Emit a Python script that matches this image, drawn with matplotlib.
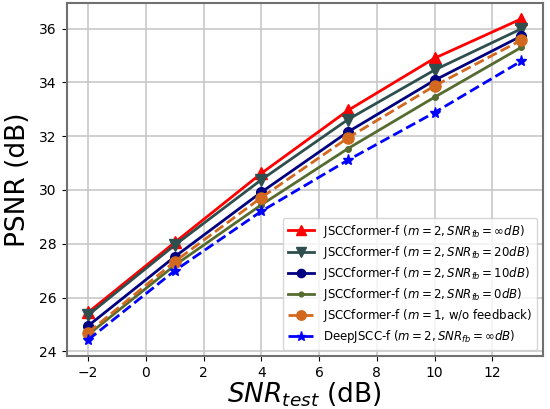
import matplotlib
matplotlib.use("Agg")
import matplotlib.pyplot as plt

# SNR_test values (dB)
snr = [-2, 1, 4, 7, 10, 13]

# PSNR values
psnr_inf = [25.45, 28.05, 30.62, 32.96, 34.90, 36.36]
psnr_20 = [25.35, 27.95, 30.38, 32.62, 34.46, 35.99]
psnr_10 = [24.95, 27.52, 29.92, 32.16, 34.08, 35.72]
psnr_0 = [24.62, 27.20, 29.45, 31.54, 33.45, 35.30]
psnr_nofb = [24.70, 27.34, 29.72, 31.94, 33.87, 35.57]
psnr_deep = [24.43, 27.00, 29.21, 31.11, 32.88, 34.79]

labels = [
    r"JSCCformer-f ($m=2, SNR_{fb}=\infty dB$)",
    r"JSCCformer-f ($m=2, SNR_{fb}=20dB$)",
    r"JSCCformer-f ($m=2, SNR_{fb}=10dB$)",
    r"JSCCformer-f ($m=2, SNR_{fb}=0dB$)",
    r"JSCCformer-f ($m=1$, w/o feedback)",
    r"DeepJSCC-f ($m=2, SNR_{fb}=\infty dB$)",
]

fig = plt.figure(figsize=(5.5, 4.09), dpi=100)
ax = fig.add_axes([0.121, 0.130, 0.866, 0.863])

ax.plot(snr, psnr_inf, color="red", marker="^", ms=8, lw=2, label=labels[0])
ax.plot(snr, psnr_20, color="#2F4F4F", marker="v", ms=8, lw=2, label=labels[1])
ax.plot(snr, psnr_10, color="navy", marker="o", ms=7, lw=2, label=labels[2])
ax.plot(snr, psnr_0, color="#556B2F", marker=".", ms=8, lw=2, label=labels[3])
ax.plot(snr, psnr_nofb, color="#D2691E", marker="o", ms=8, lw=2, ls="--", label=labels[4])
ax.plot(snr, psnr_deep, color="blue", marker="*", ms=8, lw=2, ls="--", label=labels[5])

ax.set_xlabel(r"$SNR_{test}$ (dB)", fontsize=19, labelpad=1)
ax.set_ylabel("PSNR (dB)", fontsize=19, labelpad=6)
ax.set_xticks(range(-2, 13, 2))
ax.set_yticks(range(24, 37, 2))
ax.grid(True, color="#c8c8c8", lw=1.2)
for s in ax.spines.values():
    s.set_color("#707070")
    s.set_linewidth(1.5)

ax.legend(loc="lower right", fontsize=8.5, handlelength=2.2,
          markerscale=0.85, labelspacing=0.35)

fig.savefig("out.png", dpi=100)
